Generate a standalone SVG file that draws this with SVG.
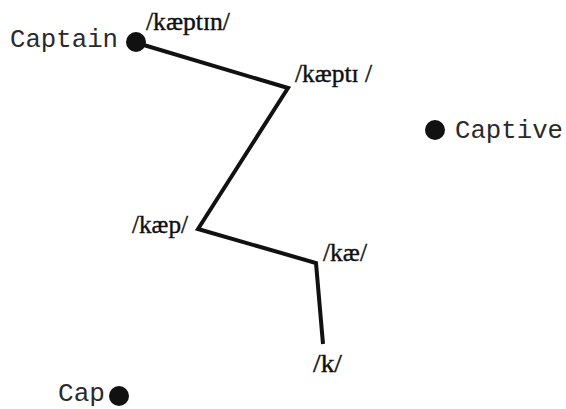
<svg xmlns="http://www.w3.org/2000/svg" width="566" height="409" viewBox="0 0 566 409">
<style>
.word{font-family:"Liberation Mono","Courier New",monospace;font-size:25px;fill:#2a2a2a}
.ipa{font-family:"Liberation Serif","Times New Roman",serif;font-size:25px;fill:#111;stroke:#111;stroke-width:0.4}
.dot{fill:#111}
.path{fill:none;stroke:#111;stroke-width:4;stroke-linejoin:miter}
</style>
<rect width="566" height="409" fill="#fff"/>
<g id="connectors">
<polyline class="path" points="137,43 288,88 198,229 316,263 323,344"/>
</g>
<g id="captain"><circle class="dot" cx="136" cy="42" r="10"/><text class="word" x="10" y="47" textLength="108" lengthAdjust="spacingAndGlyphs">Captain</text></g>
<g id="captive"><circle class="dot" cx="435" cy="130" r="10"/><text class="word" x="455" y="138" textLength="108" lengthAdjust="spacingAndGlyphs">Captive</text></g>
<g id="cap"><circle class="dot" cx="119" cy="396" r="10"/><text class="word" x="58" y="401" textLength="47" lengthAdjust="spacingAndGlyphs">Cap</text></g>
<g id="n-kaeptin"><text class="ipa" x="146" y="30" textLength="84" lengthAdjust="spacingAndGlyphs">/kæptɪn/</text></g>
<g id="n-kaepti"><text class="ipa" x="295" y="82" textLength="77" lengthAdjust="spacingAndGlyphs">/kæptɪ /</text></g>
<g id="n-kaep"><text class="ipa" x="132" y="233" textLength="56" lengthAdjust="spacingAndGlyphs">/kæp/</text></g>
<g id="n-kae"><text class="ipa" x="323" y="261" textLength="44" lengthAdjust="spacingAndGlyphs">/kæ/</text></g>
<g id="n-k"><text class="ipa" x="313" y="372" textLength="29" lengthAdjust="spacingAndGlyphs">/k/</text></g>
</svg>
